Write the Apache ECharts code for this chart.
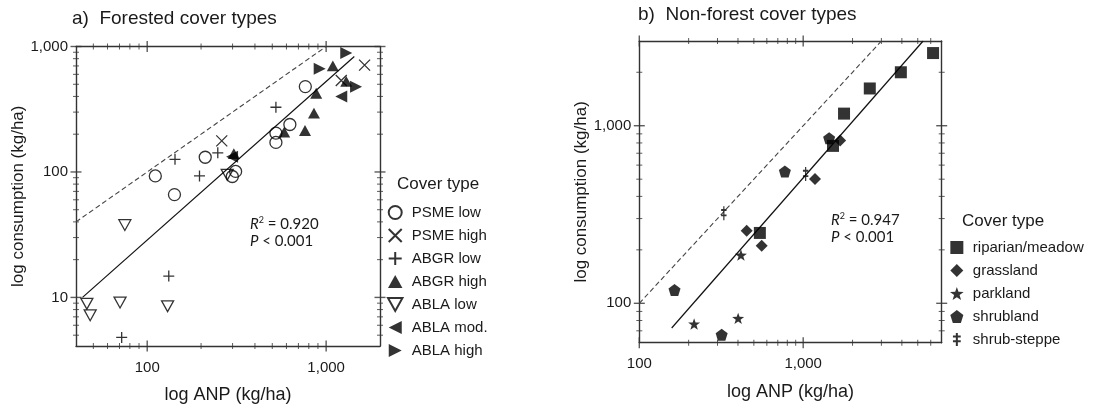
<!DOCTYPE html>
<html>
<head lang="en">
    <meta http-equiv="Content-Type" content="text/html; charset=UTF-8">
    <script src="https://cdn.jsdelivr.net/npm/echarts@6/dist/echarts.min.js"></script>
    <style>
        html, body { margin: 0; padding: 0; background: #fff; }
        #container { width: 1098px; height: 409px; }
    </style>
</head>
<body>
<div id="container"></div>
<script>
/**======= data, [ANP, consumption] in kg/ha =======**/
// a) forested cover types
var psmeLow   = [[111, 93], [142, 66], [211, 131], [299, 92], [312, 101], [524, 204], [524, 172], [627, 239], [765, 479]];
var psmeHigh  = [[261, 177], [1215, 535], [1640, 710]];
var abgrLow   = [[72, 4.8], [132, 14.8], [143, 126], [196, 93], [248, 142], [524, 328]];
var abgrHigh  = [[305, 140], [583, 208], [762, 214], [855, 294], [880, 424], [1090, 700], [1295, 528]];
var ablaLow   = [[46, 8.9], [48, 7.2], [70.5, 9.1], [75, 37.7], [130, 8.5], [280, 95]];
var ablaMod   = [[298, 132], [1215, 400]];
var ablaHigh  = [[920, 664], [1295, 886], [1470, 478]];
var fitA      = [[43.5, 10], [1437, 832]];
var oneToOneA = [[40, 40], [1000, 1000]];

// b) non-forest cover types
var riparian    = [[544, 249], [1520, 770], [1775, 1170], [2549, 1621], [3943, 2000], [6200, 2566]];
var grassland   = [[452, 256], [558, 211], [1180, 501], [1680, 825]];
var parkland    = [[216, 76.5], [401, 82.3], [417, 187]];
var shrubland   = [[164, 119], [318, 66.5], [773, 553], [1440, 850]];
var shrubSteppe = [[328, 321], [1035, 534]];
var fitB        = [[157.6, 72.6], [5390, 3000]];
var oneToOneB   = [[100, 100], [3000, 3000]];

// axis extents and tick values
var xRangeA = [40, 2000], yRangeA = [4.1, 1000];
var xRangeB = [100, 7000], yRangeB = [60, 3000];
var xMajorA = [100, 1000], xMinorA = [50, 60, 70, 80, 90, 200, 300, 400, 500, 600, 700, 800, 900];
var yMajorA = [10, 100, 1000], yMinorA = [5, 6, 7, 8, 9, 20, 30, 40, 50, 60, 70, 80, 90, 200, 300, 400, 500, 600, 700, 800, 900];
var xMajorB = [100, 1000], xMinorB = [200, 300, 400, 500, 600, 700, 800, 900, 2000, 3000, 4000, 5000, 6000];
var yMajorB = [100, 1000], yMinorB = [70, 80, 90, 200, 300, 400, 500, 600, 700, 800, 900, 2000];

var namesA = ['PSME low', 'PSME high', 'ABGR low', 'ABGR high', 'ABLA low', 'ABLA mod.', 'ABLA high'];
var namesB = ['riparian/meadow', 'grassland', 'parkland', 'shrubland', 'shrub-steppe'];

var FONT = 'Liberation Sans';
var INK = '#1a1a1a';
var AXIS = '#333';

// symbols (all paths so the legend keeps their aspect)
var SYM = {
    cross:  'path://M0,0L10,10M10,0L0,10',
    plus:   'path://M5,0L5,10M0,5L10,5',
    up:     'path://M5,0L10,9L0,9Z',
    down:   'path://M0,0L10,0L5,9Z',
    left:   'path://M10,0L10,10L0,5Z',
    right:  'path://M0,0L0,10L10,5Z',
    square: 'path://M0,0L10,0L10,10L0,10Z',
    diam:   'path://M5,0L10,5L5,10L0,5Z',
    pent:   'path://M5,0L10,3.8L8.1,10L1.9,10L0,3.8Z',
    star:   'path://M5,0L6.2,3.5L10,3.6L7,5.9L8.1,9.5L5,7.4L1.9,9.5L3,5.9L0,3.6L3.8,3.5Z',
    dagger: 'path://M3,0L3,10M0,2.6L6,2.6M0,6.4L6,6.4'
};

function isPow10(v) {
    var e = Math.log10(v);
    return Math.abs(e - Math.round(e)) < 1e-6;
}
function fmt(v) {
    if (!isPow10(v)) return '';
    return Math.round(v).toLocaleString('en-US');
}

/**axes: bottom/left carry labels, top/right only the line**/
function xAxisOf(grid, range, pos, name) {
    return {
        gridIndex: grid, type: 'log', min: range[0], max: range[1], position: pos,
        axisLine: { show: true, onZero: false, lineStyle: { color: AXIS, width: 1.4 } },
        axisTick: { show: false },
        splitLine: { show: false },
        axisLabel: { show: pos === 'bottom', formatter: fmt, interval: 0, margin: 14, color: INK, fontSize: 15, fontFamily: FONT },
        name: name || '', nameLocation: 'middle', nameGap: 40,
        nameTextStyle: { fontSize: 18, color: INK, fontFamily: FONT }
    };
}
function yAxisOf(grid, range, pos, name) {
    return {
        gridIndex: grid, type: 'log', min: range[0], max: range[1], position: pos,
        axisLine: { show: true, onZero: false, lineStyle: { color: AXIS, width: 1.4 } },
        axisTick: { show: false },
        splitLine: { show: false },
        axisLabel: { show: pos === 'left', formatter: fmt, interval: 0, margin: 8, color: INK, fontSize: 15, fontFamily: FONT },
        name: name || '', nameLocation: 'middle', nameGap: 48,
        nameTextStyle: { fontSize: 17, color: INK, fontFamily: FONT }
    };
}

/**ticks on all four sides, small rects sitting across the axis lines**/
function tickSeries(ai, xr, yr, xMaj, xMin, yMaj, yMin) {
    var vert = [], horz = [];
    xMaj.concat(xMin).forEach(function (v) {
        vert.push([v, yr[0]]); vert.push([v, yr[1]]);
    });
    yMaj.concat(yMin).forEach(function (v) {
        horz.push([xr[0], v]); horz.push([xr[1], v]);
    });
    var base = {
        type: 'scatter', xAxisIndex: ai, yAxisIndex: ai, symbol: 'rect', clip: false, silent: true,
        itemStyle: { color: AXIS }, z: 1
    };
    return [
        Object.assign({}, base, {
            data: vert,
            symbolSize: function (val) { return xMaj.indexOf(val[0]) >= 0 ? [1.4, 11] : [1, 6]; }
        }),
        Object.assign({}, base, {
            data: horz,
            symbolSize: function (val) { return yMaj.indexOf(val[1]) >= 0 ? [11, 1.4] : [6, 1]; }
        })
    ];
}

// p = panel (0 -> axes 0, 1 -> axes 2)
function pts(name, data, p, symbol, size, open, bw) {
    return {
        name: name, type: 'scatter', xAxisIndex: p * 2, yAxisIndex: p * 2, data: data,
        symbol: symbol, symbolSize: size, symbolKeepAspect: true, clip: false,
        itemStyle: open
            ? { color: 'rgba(0,0,0,0)', borderColor: '#000', borderWidth: bw || 1.3 }
            : { color: '#000', borderColor: '#000', borderWidth: 0 },
        z: 3
    };
}
function line(data, p, dashed) {
    return {
        type: 'line', xAxisIndex: p * 2, yAxisIndex: p * 2, data: data, showSymbol: false, silent: true,
        lineStyle: dashed ? { color: '#444', width: 1.1, type: [5, 3] } : { color: '#111', width: 1.2 },
        z: 2
    };
}
function richStat() {
    return {
        i: { fontStyle: 'italic', fontSize: 15, fontFamily: 'Lato', fill: INK },
        s: { fontSize: 9, fontFamily: 'Lato', fill: INK, padding: [0, 0, 7, 0] }
    };
}
function statText(txt, x, y) {
    return { type: 'text', left: x, top: y, style: { text: txt, rich: richStat(), font: '15px Lato', fill: INK } };
}
function heading(txt, x, y, size) {
    return { text: txt, left: x, top: y, textStyle: { fontSize: size, fontWeight: 'normal', color: INK, fontFamily: FONT } };
}

var myChart = echarts.init(document.getElementById('container'));

var series = []
    .concat(tickSeries(0, xRangeA, yRangeA, xMajorA, xMinorA, yMajorA, yMinorA))
    .concat(tickSeries(2, xRangeB, yRangeB, xMajorB, xMinorB, yMajorB, yMinorB))
    .concat([
        line(oneToOneA, 0, true), line(fitA, 0, false),
        line(oneToOneB, 1, true), line(fitB, 1, false),
        // panel a
        pts('PSME low', psmeLow, 0, 'circle', 12, true),
        pts('PSME high', psmeHigh, 0, SYM.cross, 11, true),
        pts('ABGR low', abgrLow, 0, SYM.plus, 11, true),
        pts('ABGR high', abgrHigh, 0, SYM.up, 12, false),
        pts('ABLA low', ablaLow, 0, SYM.down, 12, true),
        pts('ABLA mod.', ablaMod, 0, SYM.left, 12, false),
        pts('ABLA high', ablaHigh, 0, SYM.right, 12, false),
        // panel b
        pts('riparian/meadow', riparian, 1, SYM.square, 12, false),
        pts('grassland', grassland, 1, SYM.diam, 12, false),
        pts('parkland', parkland, 1, SYM.star, 12, false),
        pts('shrubland', shrubland, 1, SYM.pent, 12, false),
        pts('shrub-steppe', shrubSteppe, 1, SYM.dagger, [9, 14], true, 1.5)
    ]);

var option = {
    animation: false,
    backgroundColor: '#fff',
    title: [
        heading('a)  Forested cover types', 67, 4, 19),
        heading('b)  Non-forest cover types', 633, 0, 19),
        heading('Cover type', 392, 171, 17),
        heading('Cover type', 957, 208, 17)
    ],
    grid: [
        { left: 76, top: 46.5, width: 304, height: 300.5 },
        { left: 639.3, top: 41, width: 302.4, height: 301.7 }
    ],
    xAxis: [
        xAxisOf(0, xRangeA, 'bottom', 'log ANP (kg/ha)'),
        xAxisOf(0, xRangeA, 'top'),
        xAxisOf(1, xRangeB, 'bottom', 'log ANP (kg/ha)'),
        xAxisOf(1, xRangeB, 'top')
    ],
    yAxis: [
        yAxisOf(0, yRangeA, 'left', 'log consumption (kg/ha)'),
        yAxisOf(0, yRangeA, 'right'),
        yAxisOf(1, yRangeB, 'left', 'log consumption (kg/ha)'),
        yAxisOf(1, yRangeB, 'right')
    ],
    legend: [
        {
            data: namesA, orient: 'vertical', left: 382, top: 200, itemWidth: 23, itemHeight: 13, itemGap: 8,
            selectedMode: false, textStyle: { fontSize: 15, color: INK, fontFamily: FONT }
        },
        {
            data: namesB, orient: 'vertical', left: 945, top: 235, itemWidth: 22, itemHeight: 13, itemGap: 8,
            selectedMode: false, textStyle: { fontSize: 15, color: INK, fontFamily: FONT }
        }
    ],
    graphic: [
        statText('{i|R}{s|2} = 0.920', 250, 216),
        statText('{i|P} < 0.001', 250, 234),
        statText('{i|R}{s|2} = 0.947', 831, 212),
        statText('{i|P} < 0.001', 831, 230)
    ],
    series: series
};

myChart.setOption(option);
</script>
</body>
</html>
